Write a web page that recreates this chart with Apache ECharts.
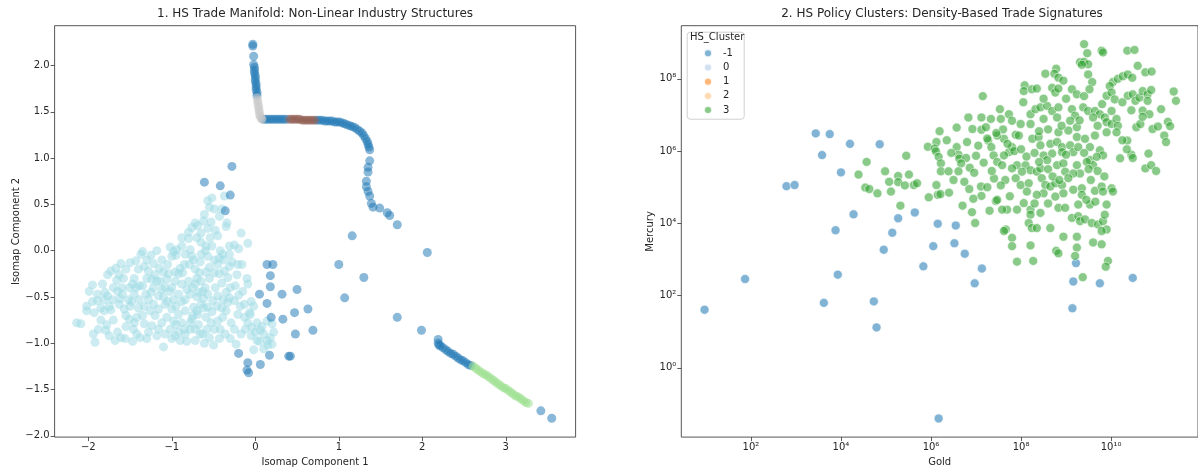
<!DOCTYPE html>
<html>
<head>
<meta charset="utf-8">
<script src="https://cdn.jsdelivr.net/npm/echarts@6/dist/echarts.min.js"></script>
<style>
html,body{margin:0;padding:0;background:#fff;}
#chart{width:1198px;height:472px;}
</style>
</head>
<body>
<div id="chart"></div>
<script>
// ---------- Panel 1: Isomap components, grouped by cluster colour ----------
const manifoldCyan = [
[-0.57,0.54],[-0.52,0.57],[-0.37,0.59],[-0.61,0.39],[-0.49,0.45],[-0.43,0.37],[-0.35,0.26],[-0.34,0.30],[-0.53,0.31],
[-0.72,0.30],[-0.69,0.27],[-0.76,0.25],[-0.65,0.19],[-0.57,0.24],[-0.45,0.16],[-0.65,0.09],[-0.80,0.13],[-0.88,0.14],
[-0.70,0.14],[-0.59,0.05],[-0.54,0.14],[-0.17,0.19],[-0.09,0.08],[-0.25,0.06],[-0.31,0.05],[-0.39,-0.04],
[-1.37,-0.04],[-1.35,-0.01],[-1.33,-0.17],[-1.02,0.04],[-0.98,-0.01],[-0.94,0.01],[-1.00,-0.06],[-0.84,-0.04],
[-0.78,0.01],[-0.76,-0.06],[-0.65,-0.04],[-0.57,-0.06],[-0.49,-0.10],[-0.43,-0.08],[-0.31,-0.04],[-0.21,-0.15],
[-0.16,-0.15],[-0.31,-0.17],[-0.22,-0.26],[-1.22,-0.14],[-1.15,-0.19],[-1.10,-0.23],[-1.04,-0.25],[-0.96,-0.23],
[-0.90,-0.19],[-0.87,-0.24],[-0.79,-0.15],[-0.72,-0.20],[-0.67,-0.24],[-0.59,-0.23],[-0.49,-0.24],[-0.43,-0.25],
[-0.37,-0.22],[-0.33,-0.29],[-1.43,-0.11],[-1.50,-0.13],[-1.67,-0.19],[-1.61,-0.14],[-1.77,-0.26],[-1.73,-0.22],
[-1.63,-0.26],[-1.95,-0.37],[-1.83,-0.36],[-1.99,-0.44],[-1.89,-0.47],[-1.77,-0.49],[-1.81,-0.53],[-1.71,-0.53],
[-1.89,-0.54],[-2.02,-0.60],[-2.02,-0.65],[-1.93,-0.67],[-1.81,-0.65],[-1.73,-0.64],[-1.63,-0.58],[-1.57,-0.63],
[-1.51,-0.40],[-1.47,-0.36],[-1.43,-0.40],[-1.39,-0.38],[-1.45,-0.47],[-1.39,-0.53],[-1.52,-0.53],[-1.65,-0.44],
[-1.59,-0.47],[-1.31,-0.47],[-1.28,-0.53],[-1.33,-0.60],[-1.22,-0.58],[-1.26,-0.65],[-1.16,-0.63],[-2.14,-0.78],
[-2.09,-0.79],[-1.94,-0.90],[-1.92,-0.99],[-1.79,-0.86],[-1.75,-0.92],[-1.65,-0.88],[-1.61,-0.94],[-1.56,-0.95],
[-1.46,-0.85],[-1.42,-0.90],[-1.38,-0.94],[-1.51,-0.74],[-1.45,-0.78],[-1.42,-0.72],[-1.33,-0.79],[-1.24,-0.81],
[-1.16,-0.85],[-1.10,-1.04],[-1.08,-0.90],[-1.02,-0.85],[-0.96,-0.92],[-0.90,-0.97],[-0.84,-0.90],[-0.78,-0.85],
[-0.72,-0.97],[-0.61,-1.00],[-0.63,-0.90],[-0.55,-0.94],[-0.49,-0.85],[-0.43,-0.95],[-0.53,-0.78],[-0.45,-0.76],
[-0.39,-0.72],[-0.59,-0.72],[-0.69,-0.69],[-0.74,-0.61],[-0.65,-0.58],[-0.57,-0.61],[-0.51,-0.54],[-0.45,-0.49],
[-0.39,-0.53],[-0.31,-0.51],[-0.25,-0.54],[-0.35,-0.65],[-0.29,-0.78],[-0.78,-0.47],[-0.84,-0.53],[-0.92,-0.47],
[-0.98,-0.53],[-1.02,-0.44],[-1.08,-0.40],[-1.14,-0.33],[-1.06,-0.31],[-0.96,-0.33],[-0.88,-0.36],[-0.80,-0.33],
[-0.72,-0.36],[-0.65,-0.33],[-0.63,-0.44],[-0.57,-0.47],[-1.22,-0.40],[-1.24,-0.31],[-1.20,-0.26],[-1.16,-0.49],
[-1.08,-0.58],[-1.00,-0.63],[-0.92,-0.69],[-0.84,-0.65],[-0.76,-0.74],[-0.88,-0.78],[-0.98,-0.76],[-1.06,-0.72],
[-0.21,-0.69],[-0.13,-0.72],[-0.06,-0.69],[-0.09,-0.78],[-0.04,-0.83],[0.00,-0.88],[0.06,-0.86],[0.10,-0.90],
[0.18,-0.94],[0.20,-1.01],[0.14,-0.97],[0.02,-0.97],[-0.02,-1.07],[-0.23,-1.01],[0.10,-1.06],[0.20,-0.79],
[0.14,-0.76],[-0.17,-0.90],[-0.25,-0.85],[-0.15,-0.44],[-0.09,-0.36],[-0.13,-0.58],[-0.07,-0.67],
[-1.40,-0.20],[-1.30,-0.30],[-1.25,-0.45],[-1.10,-0.50],[-1.00,-0.40],[-0.92,-0.25],[-0.85,-0.15],[-0.70,-0.30],
[-0.60,-0.40],[-0.55,-0.30],[-0.48,-0.40],[-0.40,-0.35],[-0.35,-0.45],[-0.30,-0.40],[-0.70,-0.50],[-0.62,-0.52],
[-0.75,-0.70],[-0.68,-0.80],[-0.58,-0.85],[-1.35,-0.70],[-1.20,-0.70],[-1.55,-0.70],[-1.70,-0.75],[-1.85,-0.75],
[-1.60,-0.40],[-1.55,-0.20],[-1.80,-0.45],[-1.95,-0.55],[-1.48,-0.55],[-1.12,-0.10],[-1.05,-0.15],[-0.95,-0.05],
[-0.88,0.05],[-0.80,0.20],[-0.60,0.00],[-0.52,0.05],[-0.45,-0.15],[-0.38,-0.10],[-0.28,-0.12],[-0.20,0.02],
[-0.10,-0.30],[-0.18,-0.60],[-0.12,-0.85],[0.05,-0.98],[0.15,-1.02],[-0.05,-0.92],[-0.95,-0.80],[-1.00,-0.95],
[-1.30,-0.95],[-1.55,-0.82],
[-1.45,-0.30],[-1.35,-0.38],[-1.28,-0.22],[-1.18,-0.33],[-1.12,-0.42],[-1.05,-0.55],[-0.95,-0.60],[-0.88,-0.55],
[-0.82,-0.42],[-0.75,-0.40],[-0.68,-0.45],[-0.62,-0.62],[-0.70,-0.65],[-0.78,-0.78],[-0.72,-0.85],[-0.66,-0.90],
[-0.85,-0.85],[-0.92,-0.88],[-1.12,-0.78],[-1.18,-0.92],[-1.28,-0.88],[-1.40,-0.62],[-1.50,-0.60],[-1.62,-0.52],
[-1.70,-0.40],[-1.75,-0.60],[-1.85,-0.62],[-1.58,-0.30],[-1.66,-0.32],[-1.78,-0.80],[-1.88,-0.85],[-1.68,-0.97],
[-1.47,-0.98],[-0.52,-0.66],[-0.46,-0.60],[-0.40,-0.62],[-0.33,-0.56],[-0.42,-0.85],[-0.36,-0.90],[-0.30,-0.95],
[-0.50,-1.02],[-0.82,-0.98],[-0.55,-0.18],[-0.66,-0.12],[-0.74,-0.10],[-0.42,0.00],[-0.48,0.22],[-0.62,0.32],
[-0.40,0.45],[-0.55,0.47],[-1.25,-0.05],[-1.18,0.00],[-1.30,-0.10],[-0.24,-0.38],[-0.20,-0.48],[0.02,-0.78],
[0.08,-0.82],[0.22,-0.88],[-0.02,-0.60],[-0.05,-0.55]
];
const manifoldNoise = [
[-0.03,2.23],[-0.03,2.21],[-0.02,2.10],[-0.02,2.01],[-0.01,1.98],[-0.01,1.95],[-0.01,1.92],[0.00,1.89],
[0.00,1.86],[0.00,1.83],[0.01,1.80],[0.01,1.77],[0.01,1.74],[0.02,1.71],[0.02,1.68],
[0.10,1.42],[0.13,1.42],[0.16,1.42],[0.19,1.42],[0.22,1.42],[0.25,1.42],[0.28,1.42],[0.31,1.42],[0.34,1.42],[0.37,1.42],
[0.74,1.41],[0.77,1.41],[0.80,1.41],[0.83,1.40],[0.86,1.40],[0.89,1.40],[0.92,1.40],[0.95,1.39],[0.98,1.39],
[1.01,1.39],[1.04,1.38],[1.07,1.37],[1.10,1.36],[1.13,1.35],[1.16,1.34],[1.19,1.33],[1.22,1.31],[1.25,1.29],
[1.28,1.27],[1.30,1.24],[1.32,1.21],[1.34,1.18],[1.35,1.15],[1.36,1.12],[1.37,1.09],
[1.37,0.97],[1.35,0.90],[1.35,0.85],[1.33,0.75],[1.33,0.69],[1.35,0.64],[1.37,0.59],[1.39,0.51],[1.41,0.47],
[1.49,0.46],[1.58,0.41],[1.61,0.38],[1.70,0.28],
[1.16,0.16],[2.06,-0.02],[1.00,-0.15],[1.30,-0.29],[1.07,-0.51],[1.70,-0.72],[1.99,-0.86],
[2.19,-0.96],[2.19,-1.00],[2.20,-1.02],[2.22,-1.03],[2.25,-1.05],[2.28,-1.07],[2.31,-1.09],[2.34,-1.11],[2.37,-1.12],
[2.40,-1.14],[2.43,-1.16],[2.46,-1.18],[2.49,-1.19],[2.52,-1.21],[2.55,-1.23],[2.58,-1.24],
[3.42,-1.73],[3.55,-1.81],
[-0.28,0.91],[-0.61,0.74],[-0.42,0.70],[-0.30,0.60],[-0.36,0.43],[0.14,-0.15],[0.21,-0.15],[0.18,-0.27],
[0.18,-0.39],[0.05,-0.47],[0.32,-0.47],[0.50,-0.42],[0.14,-0.57],[0.19,-0.72],[0.33,-0.74],[0.47,-0.67],
[0.63,-0.63],[0.48,-0.90],[0.69,-0.86],[-0.20,-1.11],[0.17,-1.13],[0.40,-1.14],[0.42,-1.14],[-0.09,-1.21],
[0.06,-1.23],[-0.10,-1.29],[-0.08,-1.32]
];
const manifoldGray = [
[0.02,1.65],[0.03,1.62],[0.03,1.59],[0.04,1.56],[0.04,1.53],[0.05,1.50],[0.05,1.47],[0.06,1.45],[0.07,1.43],[0.08,1.42]
];
const manifoldBrown = [
[0.41,1.42],[0.44,1.42],[0.47,1.42],[0.50,1.42],[0.53,1.42],[0.56,1.41],[0.59,1.41],[0.62,1.41],[0.65,1.41],[0.68,1.41],[0.71,1.41]
];
const manifoldGreen = [
[2.61,-1.25],[2.64,-1.27],[2.67,-1.29],[2.70,-1.31],[2.73,-1.33],[2.76,-1.34],[2.79,-1.36],[2.82,-1.38],
[2.85,-1.40],[2.88,-1.42],[2.91,-1.44],[2.94,-1.46],[2.97,-1.48],[3.00,-1.49],[3.03,-1.51],[3.06,-1.53],
[3.09,-1.55],[3.12,-1.57],[3.15,-1.58],[3.18,-1.60],[3.21,-1.62],[3.24,-1.64],[3.27,-1.65]
];
const manifoldXTicks = [-2,-1,0,1,2,3];
const manifoldYTicks = [-2,-1.5,-1,-0.5,0,0.5,1,1.5,2];

// ---------- Panel 2: Gold vs Mercury, stored as [log10(Gold), log10(Mercury)] ----------
const policyNoiseLog = [
[0.97,1.61],[1.87,2.46],[2.79,5.03],[2.97,5.06],[3.44,6.49],[3.75,6.47],[3.58,5.89],[4.20,6.20],[4.86,6.19],
[4.00,5.41],[4.28,4.25],[3.88,3.81],[3.93,2.58],[3.62,1.80],[4.73,1.84],[4.79,1.12],[4.95,3.27],[5.14,3.74],
[5.27,4.14],[5.64,4.30],[5.83,2.81],[6.05,3.37],[6.15,3.99],[6.52,3.45],[6.55,3.94],[6.75,3.16],[7.13,2.75],
[6.97,2.34],[6.17,-1.40],[9.22,2.90],[9.16,2.39],[9.14,1.65],[9.75,2.34],[10.48,2.49]
];
const policyCluster3Log = [
[7.15,7.52],[6.83,6.93],[7.12,6.93],[6.92,6.61],[7.12,6.59],[7.22,6.66],[7.33,6.89],[6.19,6.55],[6.57,6.65],
[6.12,6.25],[5.93,6.12],[6.08,6.07],[6.57,6.11],[6.11,5.99],[6.17,5.84],[6.22,5.66],[6.61,5.90],[6.63,5.79],
[6.78,5.81],[7.00,5.87],[6.67,5.66],[6.86,5.54],[6.96,5.40],[7.17,5.68],[7.27,6.29],[7.34,6.11],[7.39,5.88],
[6.22,5.44],[6.39,5.44],[6.61,5.44],[6.74,5.15],[7.40,5.24],[7.11,5.02],[6.12,5.06],[6.15,4.79],[6.21,4.81],
[5.95,4.72],[7.12,4.76],[6.94,4.68],[6.70,4.49],[6.91,4.31],[6.98,4.01],[7.44,4.62],[5.45,5.87],[4.57,5.70],
[4.39,5.35],[4.98,5.44],[5.27,5.31],[5.07,5.15],[5.27,5.14],[5.51,5.35],[5.42,5.05],[5.62,5.06],[5.69,5.11],
[4.54,4.99],[4.63,4.95],[4.81,4.83],[5.11,4.88],[5.32,4.49],
[9.40,8.96],[9.47,8.71],[9.79,8.78],[9.82,8.73],[10.36,8.78],[10.52,8.80],[9.31,8.46],[9.40,8.47],[9.49,8.40],
[9.35,8.39],[10.59,8.36],[10.76,8.18],[10.90,8.20],[8.78,8.28],[8.54,8.14],[8.74,8.14],[8.83,8.03],[8.94,7.95],
[9.49,8.12],[9.58,7.91],[9.52,7.71],[10.04,7.91],[10.15,8.00],[10.26,8.07],[10.37,8.12],[10.47,8.03],[9.97,7.80],
[8.08,7.82],[8.06,7.66],[8.24,7.71],[8.35,7.73],[8.69,7.75],[8.76,7.62],[8.83,7.73],[9.13,7.71],[9.24,7.57],
[9.40,7.52],[9.90,7.53],[10.01,7.62],[10.08,7.43],[10.37,7.53],[10.48,7.57],[10.54,7.39],[10.63,7.48],[10.70,7.66],
[10.81,7.57],[10.89,7.69],[10.81,7.39],[11.39,7.65],[11.44,7.39],[11.11,7.16],[10.70,7.12],[10.85,7.02],[10.45,7.13],
[10.56,6.66],[10.65,6.75],[10.92,6.61],[11.04,6.68],[11.26,6.81],[11.31,6.69],[11.18,6.43],[11.22,6.25],[10.36,6.29],
[10.45,5.90],[10.48,5.81],[10.83,5.93],[10.76,5.52],[10.89,5.61],[11.00,5.45],
[7.53,7.16],[7.73,7.02],[7.80,6.84],[7.55,6.89],[7.99,6.75],[8.21,7.02],[8.32,7.16],[8.43,7.21],[8.58,7.25],
[8.69,7.11],[8.83,7.21],[8.50,6.89],[8.80,6.93],[9.13,7.16],[9.20,6.98],[9.38,7.21],[9.49,7.11],[9.64,7.11],
[9.75,7.02],[9.60,6.93],[9.86,6.93],[9.90,6.80],[10.01,6.75],[10.12,6.89],[10.15,6.70],[10.12,6.52],[9.90,6.52],
[10.01,7.11],[8.83,6.52],[9.05,6.57],[9.24,6.39],[9.42,6.34],[9.64,6.43],[9.09,6.84],[9.24,6.66],
[7.88,6.45],[7.95,6.43],[7.62,6.34],[7.47,6.43],[8.21,6.75],[8.25,6.34],[8.39,6.39],[8.43,6.16],[8.65,6.20],
[8.80,6.25],[8.91,6.11],[9.09,6.16],[9.16,5.97],[9.27,6.11],[9.53,6.11],[9.75,6.02],[9.82,5.88],[9.53,5.75],
[9.68,5.84],[9.60,5.61],[9.46,5.70],[8.50,5.88],[8.69,5.93],[8.91,5.97],[8.58,5.75],[8.80,5.61],[8.94,5.66],
[8.98,5.43],[9.24,5.61],[9.31,5.38],[9.16,5.38],
[7.73,5.97],[7.62,5.88],[7.80,6.11],[7.47,5.70],[7.58,5.61],[7.91,5.61],[8.10,5.61],[8.21,5.47],[8.35,5.43],
[8.43,5.52],[8.02,5.43],[7.80,5.52],[7.88,5.25],[7.99,5.06],[8.17,5.11],[8.46,5.25],[8.54,5.06],[8.65,5.02],
[8.76,5.11],[8.91,5.06],[8.94,4.83],[8.76,4.74],[8.50,4.83],[8.35,4.79],[8.13,4.88],[8.06,4.56],[7.91,4.38],
[7.69,4.38],[7.58,4.38],[7.47,4.65],[8.21,4.38],[8.43,4.29],[8.83,4.43],[8.98,4.43],[9.16,4.93],[9.35,4.97],
[9.35,4.79],[9.64,4.90],[9.79,5.02],[9.82,4.88],[10.01,4.97],[10.04,4.88],
[9.13,4.15],[9.27,4.20],[9.31,4.06],[9.42,4.11],[9.57,4.01],[9.71,3.97],[9.82,4.06],[9.86,4.24],[9.90,3.83],
[9.79,3.79],[9.53,4.52],[9.90,4.52],[9.27,4.52],
[8.21,4.24],[8.17,4.01],[8.24,3.87],[8.35,3.87],[8.65,3.87],[8.94,3.63],[9.24,3.63],[7.80,3.60],[7.66,3.83],
[7.62,3.79],[7.80,3.37],[8.21,3.39],[8.78,3.24],[8.83,3.17],[9.24,3.33],[9.20,3.10],[9.60,3.47],[9.79,3.42],
[7.91,2.94],[8.27,2.96],[9.93,2.96],[9.88,2.80],[9.37,2.51],
[7.60,6.60],[7.70,6.20],[7.85,6.00],[8.00,6.05],[8.12,5.85],[8.30,5.95],[8.40,5.70],[8.60,5.50],[8.70,5.30],
[8.85,5.20],[9.00,5.90],[9.05,5.25],[9.40,5.95],[9.50,5.50],[9.70,5.45],[9.85,5.30],[9.55,5.20],[9.45,4.65],
[9.65,4.60],[8.60,4.55],[8.30,4.55],[7.75,4.75],[7.65,5.20],[7.55,5.05],[8.90,6.70],[8.60,6.60],[8.40,6.55],
[9.30,6.85],[9.70,6.70],[10.25,6.30],[10.35,6.05],[10.20,5.80],[8.05,7.35],[8.50,7.45],[9.00,7.45],[9.80,7.30],
[10.25,7.35],[10.70,6.95],[7.25,6.35],[7.35,5.45],[7.05,6.15],[6.45,5.95],[6.35,6.30],[6.80,6.25],[6.50,5.20],
[7.25,5.00],[7.30,4.35],[6.85,4.95],[6.40,4.85],[7.45,6.50]
];
const policyCluster0Log = [];
const policyCluster1Log = [];
const policyCluster2Log = [];
const policyClusterNames = ['-1','0','1','2','3'];
const policyXTicks = [2,4,6,8,10];
const policyYTicks = [0,2,4,6,8];

// ---------- helpers ----------
const SUP = {'0':'⁰','1':'¹','2':'²','3':'³','4':'⁴','5':'⁵','6':'⁶','7':'⁷','8':'⁸','9':'⁹','-':'⁻'};
function powLabel(v){ return '10' + String(Math.round(v)).split('').map(c=>SUP[c]).join(''); }
function mpl1(v){ return (v<0?'\u2212':'') + Math.abs(v).toFixed(1); }
function mpl0(v){ return (v<0?'\u2212':'') + Math.abs(v).toFixed(0); }

const FONT = 'DejaVu Sans';
const txt = '#262626';
function mkAxis(extra, ticks, fmt){
  return Object.assign({
    type:'value', splitLine:{show:false},
    axisLine:{show:false, onZero:false},
    axisTick:{show:true, length:4, customValues:ticks, lineStyle:{color:'#333', width:0.8}},
    axisLabel:{color:txt, fontSize:10, fontFamily:FONT, margin:5, customValues:ticks, formatter:fmt},
    nameTextStyle:{color:txt, fontSize:10, fontFamily:FONT},
    nameLocation:'middle'
  }, extra);
}

const chart = echarts.init(document.getElementById('chart'), null, {renderer:'canvas'});

function scatter(name, data, xi, color, size, border){
  return {
    type:'scatter', name:name, xAxisIndex:xi, yAxisIndex:xi, data:data,
    symbol:'circle', symbolSize:size, silent:true,
    itemStyle:{color:color, borderColor: border? '#fff' : 'transparent', borderWidth: border?0.7:0}
  };
}

const option = {
  animation:false,
  backgroundColor:'#fff',
  title:[
    {text:'1. HS Trade Manifold: Non-Linear Industry Structures', left:315, top:8, textAlign:'center', padding:0,
     textStyle:{fontSize:12, fontWeight:'normal', color:txt, fontFamily:FONT}},
    {text:'2. HS Policy Clusters: Density-Based Trade Signatures', left:942, top:8, textAlign:'center', padding:0,
     textStyle:{fontSize:12, fontWeight:'normal', color:txt, fontFamily:FONT}}
  ],
  grid:[
    {left:54.6, top:25.7, width:521, height:416, show:true, borderColor:'#444', borderWidth:0.9, containLabel:false},
    {left:681.3, top:25.7, width:521, height:416, show:true, borderColor:'#444', borderWidth:0.9, containLabel:false}
  ],
  xAxis:[
    mkAxis({gridIndex:0, min:-2.404, max:3.836, name:'Isomap Component 1', nameGap:19}, manifoldXTicks, mpl0),
    mkAxis({gridIndex:1, min:0.454, max:0.454+521/45.4, name:'Gold', nameGap:19}, policyXTicks, powLabel)
  ],
  yAxis:[
    mkAxis({gridIndex:0, min:-2.014, max:2.430, name:'Isomap Component 2', nameGap:33}, manifoldYTicks, mpl1),
    mkAxis({gridIndex:1, min:-1.915, max:9.47, name:'Mercury', nameGap:26}, policyYTicks, powLabel)
  ],
  legend:{
    data:policyClusterNames, orient:'vertical', left:703, top:47.3, itemWidth:8, itemHeight:8, itemGap:2.2,
    padding:0, icon:'circle', selectedMode:false,
    textStyle:{color:txt, fontSize:10, fontFamily:FONT, lineHeight:12, padding:[0,0,0,6]}
  },
  graphic:[
    {type:'rect', left:686.7, top:31.7, shape:{width:57, height:87, r:3}, z:1,
     style:{fill:'rgba(255,255,255,0.8)', stroke:'#d0d0d0', lineWidth:1}},
    {type:'text', left:690, top:32.5, z:2,
     style:{text:'HS_Cluster', fill:txt, font:'10px "DejaVu Sans"'}}
  ],
  series:[
    scatter('m19', manifoldCyan, 0, 'rgba(158,218,229,0.65)', 9, false),
    scatter('m0', manifoldNoise, 0, 'rgba(31,119,180,0.65)', 9, false),
    scatter('m15', manifoldGray, 0, 'rgba(199,199,199,0.65)', 9, false),
    scatter('m10', manifoldBrown, 0, 'rgba(140,86,75,0.65)', 9, false),
    scatter('m5', manifoldGreen, 0, 'rgba(152,223,138,0.65)', 9, false),
    scatter('-1', policyNoiseLog, 1, 'rgba(31,119,180,0.7)', 9, true),
    scatter('0', policyCluster0Log, 1, 'rgba(174,199,232,0.7)', 9, true),
    scatter('1', policyCluster1Log, 1, 'rgba(255,127,14,0.7)', 9, true),
    scatter('2', policyCluster2Log, 1, 'rgba(255,187,120,0.7)', 9, true),
    scatter('3', policyCluster3Log, 1, 'rgba(44,160,44,0.7)', 9, true)
  ]
};
chart.setOption(option);
</script>
</body>
</html>
